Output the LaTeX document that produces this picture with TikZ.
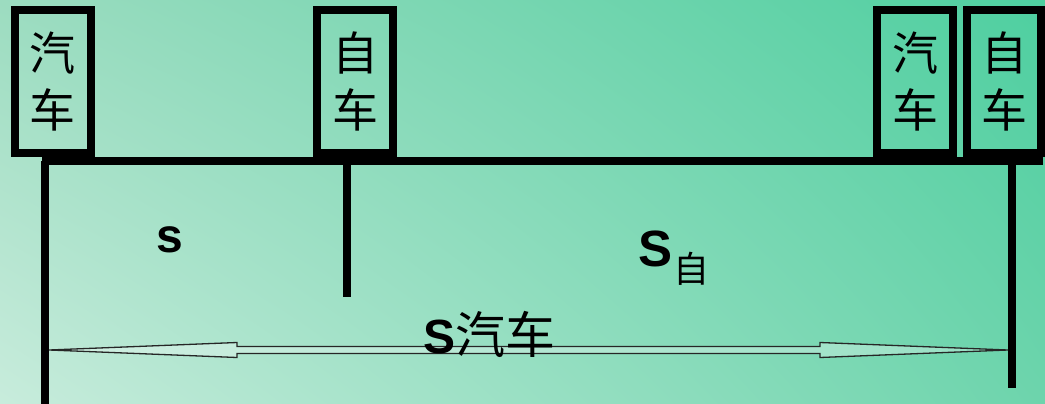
\documentclass[tikz,border=0pt]{standalone}
\usepackage{fontspec}
\usetikzlibrary{shadings}
\setmainfont{Liberation Sans}
\newfontfamily\cjk{Noto Sans CJK SC}
\definecolor{bgTL}{HTML}{9CDCC0}
\definecolor{bgTR}{HTML}{4ECFA0}
\definecolor{bgBL}{HTML}{C8ECDC}
\definecolor{bgBR}{HTML}{6DD4AC}
\begin{document}
\begin{tikzpicture}[x=1pt,y=-1pt,
  sign/.style={draw,line width=8pt,minimum width=76pt,minimum height=143pt,inner sep=0pt,align=center,font=\cjk\fontsize{46}{57}\selectfont},
  bar/.style={line width=8pt},
  arr/.style={draw=black!85,line width=1.3pt,fill=white,fill opacity=0.3,line join=miter},
  lbl/.style={inner sep=0pt,font=\fontsize{48}{48}\selectfont\bfseries},
  sub/.style={inner sep=0pt,font=\cjk\fontsize{36}{36}\selectfont}]
\shade[upper left=bgTL,upper right=bgTR,lower left=bgBL,lower right=bgBR] (0,0) rectangle (1045,404);
\useasboundingbox (0,0) rectangle (1045,404);
% signs
\node[sign] (car1) at (52.5,81.5) {汽\\车};
\node[sign] (bike1) at (355,81.5) {自\\车};
\node[sign] (car2) at (915,81.5) {汽\\车};
\node[sign,minimum width=74pt] (bike2) at (1004,81.5) {自\\车};
% road and markers
\coordinate (hl) at (42,161);
\coordinate (hr) at (1043,161);
\coordinate (vLt) at (45,161);
\coordinate (vLb) at (45,404);
\coordinate (vMt) at (347,161);
\coordinate (vMb) at (347,297);
\coordinate (vRt) at (1012,161);
\coordinate (vRb) at (1012,388);
\draw[bar] (hl) -- (hr);
\draw[bar] (vLt) -- (vLb);
\draw[bar] (vMt) -- (vMb);
\draw[bar] (vRt) -- (vRb);
% double arrow
\coordinate (aL) at (49,350);
\coordinate (aR) at (1008,350);
\draw[arr] (aL) -- (237,342.5) -- (237,346.5) -- (820,346.5) -- (820,342.5) -- (aR)
  -- (820,357.5) -- (820,353.5) -- (237,353.5) -- (237,357.5) -- cycle;
% labels
\node[lbl] (s) at (169.5,239.5) {s};
\node[lbl,font=\fontsize{51}{51}\selectfont\bfseries] (Sz) at (656,248.5) {S};
\node[sub] (zi) at (691.5,268.5) {自};
\node[lbl,anchor=base] (Sq) at (489.5,353) {S{\cjk\mdseries\fontsize{50}{50}\selectfont 汽车}};
\end{tikzpicture}
\end{document}
